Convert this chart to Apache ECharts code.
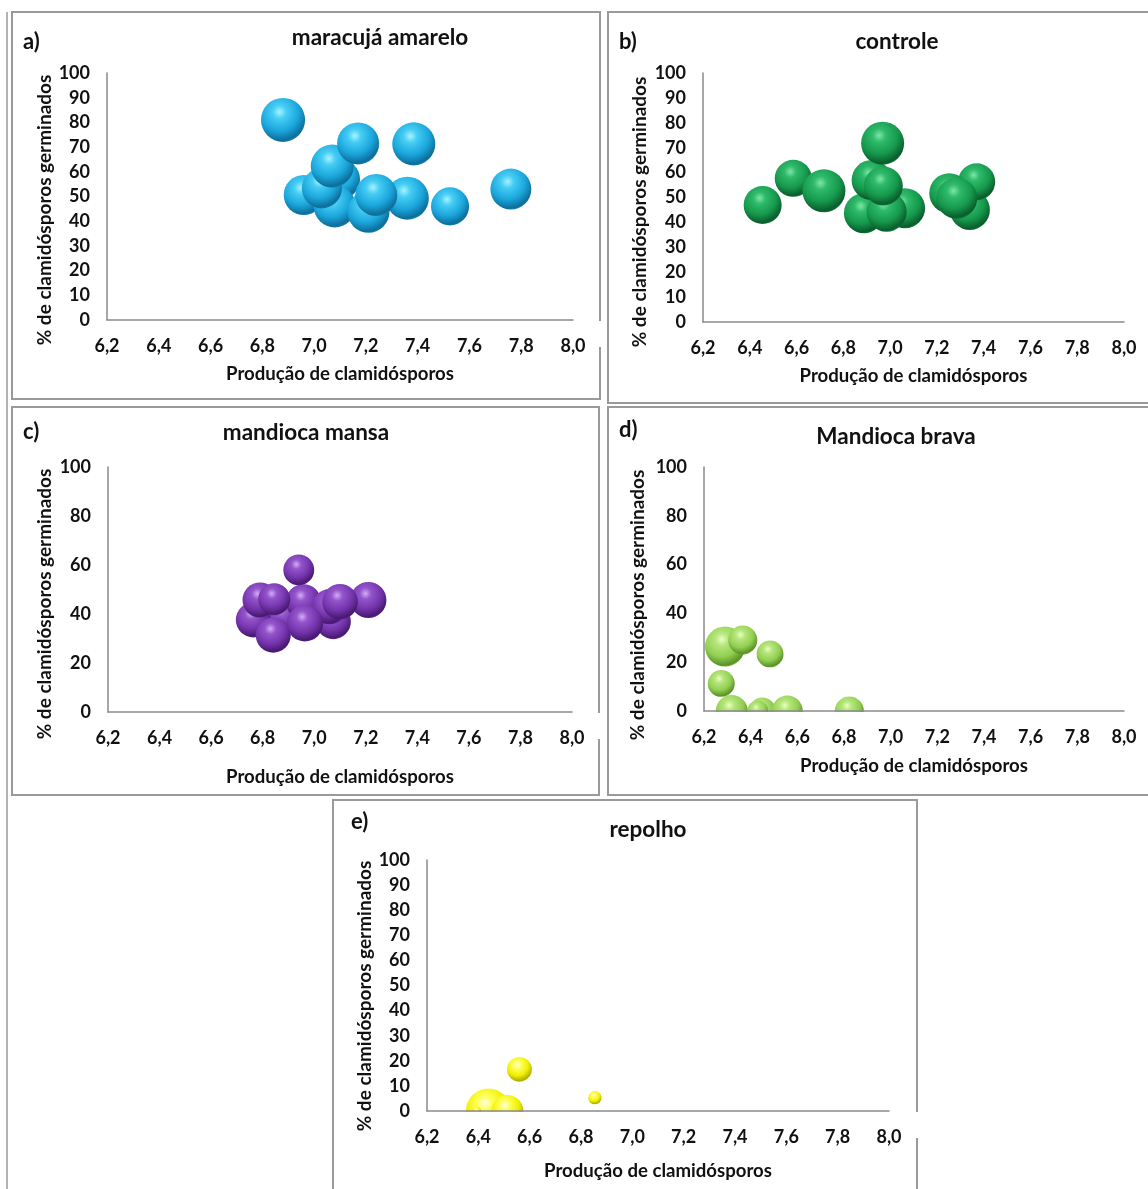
<!DOCTYPE html>
<html>
<head>
<meta charset="utf-8">
<script src="https://cdn.jsdelivr.net/npm/echarts@6/dist/echarts.min.js"></script>
<style>
  html, body { margin: 0; padding: 0; background: #ffffff; }
  #chart { width: 1148px; height: 1189px; }
</style>
</head>
<body>
<div id="chart"></div>
<script>
// Germinação × produção de clamidósporos por substrato (gráficos de bolhas)
const xTicks = ['6,2', '6,4', '6,6', '6,8', '7,0', '7,2', '7,4', '7,6', '7,8', '8,0'];

// a) maracujá amarelo
const maracujaX = [7.10, 6.96, 7.08, 7.03, 7.21, 7.36, 7.24, 7.07, 6.88, 7.17, 7.385, 7.525, 7.76];
const maracujaY = [57.0, 50.6, 46.0, 53.3, 43.8, 49.3, 50.6, 62.3, 81.0, 71.5, 71.3, 46.0, 53.0];
const maracujaBolha = [91, 91, 100, 91, 100, 105, 100, 105, 110, 100, 105, 82, 95];

// b) controle
const controleX = [6.888, 7.064, 6.985, 6.921, 6.971, 6.968, 6.455, 6.586, 6.717, 7.341, 7.37, 7.253, 7.285];
const controleY = [43.7, 45.7, 44.3, 57.0, 54.6, 71.8, 47.0, 57.7, 52.7, 45.0, 56.3, 51.7, 49.7];
const controleBolha = [91, 91, 91, 91, 86, 105, 82, 78, 105, 91, 78, 91, 95];

// c) mandioca mansa
const mansaX = [6.88, 6.764, 6.79, 6.841, 6.958, 7.074, 7.06, 6.845, 6.964, 7.21, 7.10, 6.94];
const mansaY = [38.9, 37.6, 45.7, 31.4, 45.0, 36.9, 43.0, 46.0, 36.2, 45.7, 45.0, 58.0];
const mansaBolha = [70, 70, 70, 70, 70, 70, 70, 58, 75, 74, 72, 54];

// d) Mandioca brava
const bravaX = [6.29, 6.366, 6.483, 6.274, 6.319, 6.45, 6.43, 6.557, 6.823];
const bravaY = [26.4, 29.1, 23.4, 11.3, 0, 0, 0, 0, 0];
const bravaBolha = [91, 48, 41, 41, 58, 41, 25, 54, 48];

// e) repolho
const repolhoX = [6.439, 6.513, 6.394, 6.56, 6.854];
const repolhoY = [0, 0, 0, 16.6, 5.3];
const repolhoBolha = [115, 58, 4, 35, 10];

const FONT = 'Lato, "Open Sans", sans-serif';
const INK = '#111111';
const AXIS_GREY = '#8a8a8a';
const BOLHA_K = 4.2;   // diâmetro = K * sqrt(valor da bolha)

// painéis: área de plotagem (px), passo do eixo y, cores da esfera
const panels = [
  { key: 'a)', title: 'maracujá amarelo', tx: 380, ty: 38, lx: 23, ly: 42,
    grid: { left: 107, top: 73, width: 466, height: 247 }, yStep: 10,
    ytx: 45, yty: 210, xty: 374,
    xs: maracujaX, ys: maracujaY, ws: maracujaBolha,
    pal: ['#a8f2ff', '#45cdf4', '#1ba6dc', '#0d6d9a', '#1a8fc2'] },
  { key: 'b)', title: 'controle', tx: 897, ty: 42, lx: 619, ly: 42,
    grid: { left: 703, top: 73, width: 421, height: 249 }, yStep: 10,
    ytx: 640, yty: 212, xty: 376,
    xs: controleX, ys: controleY, ws: controleBolha,
    pal: ['#7ee6a6', '#2fba6b', '#16994d', '#0a5c2c', '#138a44'] },
  { key: 'c)', title: 'mandioca mansa', tx: 306, ty: 433, lx: 23, ly: 432,
    grid: { left: 108, top: 467, width: 464, height: 245 }, yStep: 20,
    ytx: 45, yty: 604, xty: 777,
    xs: mansaX, ys: mansaY, ws: mansaBolha,
    pal: ['#d2aef2', '#9454cc', '#7434ac', '#481970', '#6a2c9e'] },
  { key: 'd)', title: 'Mandioca brava', tx: 896, ty: 437, lx: 619, ly: 430,
    grid: { left: 704, top: 467, width: 420, height: 244 }, yStep: 20,
    ytx: 638, yty: 605, xty: 766,
    xs: bravaX, ys: bravaY, ws: bravaBolha,
    pal: ['#eaffc4', '#b6e67c', '#92cf52', '#5a9226', '#86c24a'] },
  { key: 'e)', title: 'repolho', tx: 648, ty: 830, lx: 351, ly: 822,
    grid: { left: 427, top: 860, width: 462, height: 251 }, yStep: 10,
    ytx: 365, yty: 996, xty: 1171,
    xs: repolhoX, ys: repolhoY, ws: repolhoBolha,
    pal: ['#ffffe6', '#ffff5a', '#f0f000', '#adad00', '#dede00'] }
];

function sphere(p) {
  return {
    type: 'radial', x: 0.42, y: 0.32, r: 0.72,
    colorStops: [
      { offset: 0, color: p[0] },
      { offset: 0.22, color: p[1] },
      { offset: 0.6, color: p[2] },
      { offset: 0.9, color: p[3] },
      { offset: 1, color: p[4] }
    ]
  };
}

const grids = [], xAxes = [], yAxes = [], series = [], graphics = [];

panels.forEach((p, i) => {
  grids.push(Object.assign({ containLabel: false }, p.grid));
  xAxes.push({
    gridIndex: i, type: 'value', min: 6.2, max: 8.0, interval: 0.2, z: 10,
    axisLine: { show: true, onZero: false, lineStyle: { color: AXIS_GREY, width: 1.5 } },
    axisTick: { show: false }, splitLine: { show: false },
    axisLabel: {
      margin: 17, color: INK, fontFamily: FONT, fontWeight: 'bold', fontSize: 18,
      formatter: v => xTicks[Math.round((v - 6.2) / 0.2)]
    }
  });
  yAxes.push({
    gridIndex: i, type: 'value', min: 0, max: 100, interval: p.yStep, z: 10,
    axisLine: { show: true, lineStyle: { color: AXIS_GREY, width: 1.5 } },
    axisTick: { show: false }, splitLine: { show: false },
    axisLabel: { margin: 17, color: INK, fontFamily: FONT, fontWeight: 'bold', fontSize: 18 }
  });
  series.push({
    type: 'scatter', xAxisIndex: i, yAxisIndex: i, z: 2, clip: false, silent: true,
    data: p.xs.map((x, k) => [x, p.ys[k], p.ws[k]]),
    symbolSize: v => BOLHA_K * Math.sqrt(v[2]),
    itemStyle: { color: sphere(p.pal), opacity: 1 }
  });

  const g = p.grid;
  // faixa branca sob o eixo x: bolhas em y = 0 aparecem só na metade superior
  graphics.push({
    type: 'rect', z: 5, silent: true,
    shape: { x: g.left - 30, y: g.top + g.height + 1, width: g.width + 60, height: 26 },
    style: { fill: '#ffffff' }
  });
  graphics.push({
    type: 'text', z: 12, silent: true, x: p.tx, y: p.ty,
    style: { text: p.title, font: 'bold 22.5px ' + FONT, fill: INK, textAlign: 'center', textVerticalAlign: 'middle' }
  });
  graphics.push({
    type: 'text', z: 12, silent: true, x: p.lx, y: p.ly,
    style: { text: p.key, font: 'bold 22px ' + FONT, fill: INK, textAlign: 'left', textVerticalAlign: 'middle' }
  });
  graphics.push({
    type: 'text', z: 12, silent: true, x: g.left + g.width / 2, y: p.xty,
    style: { text: 'Produção de clamidósporos', font: 'bold 18.6px ' + FONT, fill: INK, textAlign: 'center', textVerticalAlign: 'middle' }
  });
  graphics.push({
    type: 'text', z: 12, silent: true, x: p.ytx, y: p.yty, rotation: Math.PI / 2,
    style: { text: '% de clamidósporos germinados', font: 'bold 19px ' + FONT, fill: INK, textAlign: 'center', textVerticalAlign: 'middle' }
  });
});

// molduras dos painéis
const frames = [
  [12, 12, 588, 387], [608, 12, 560, 391],
  [12, 407, 587, 388], [608, 407, 560, 388],
  [333, 800, 584, 420]
];
frames.forEach(f => graphics.push({
  type: 'rect', z: 1, silent: true,
  shape: { x: f[0], y: f[1], width: f[2], height: f[3] },
  style: { fill: null, stroke: '#9a9a9a', lineWidth: 2 }
}));
graphics.push({
  type: 'line', z: 1, silent: true,
  shape: { x1: 7, y1: 12, x2: 7, y2: 1189 },
  style: { stroke: '#9a9a9a', lineWidth: 1.5 }
});

const chart = echarts.init(document.getElementById('chart'), null, { renderer: 'canvas' });
chart.setOption({
  animation: false,
  backgroundColor: '#ffffff',
  grid: grids,
  xAxis: xAxes,
  yAxis: yAxes,
  series: series,
  graphic: graphics
});
</script>
</body>
</html>
